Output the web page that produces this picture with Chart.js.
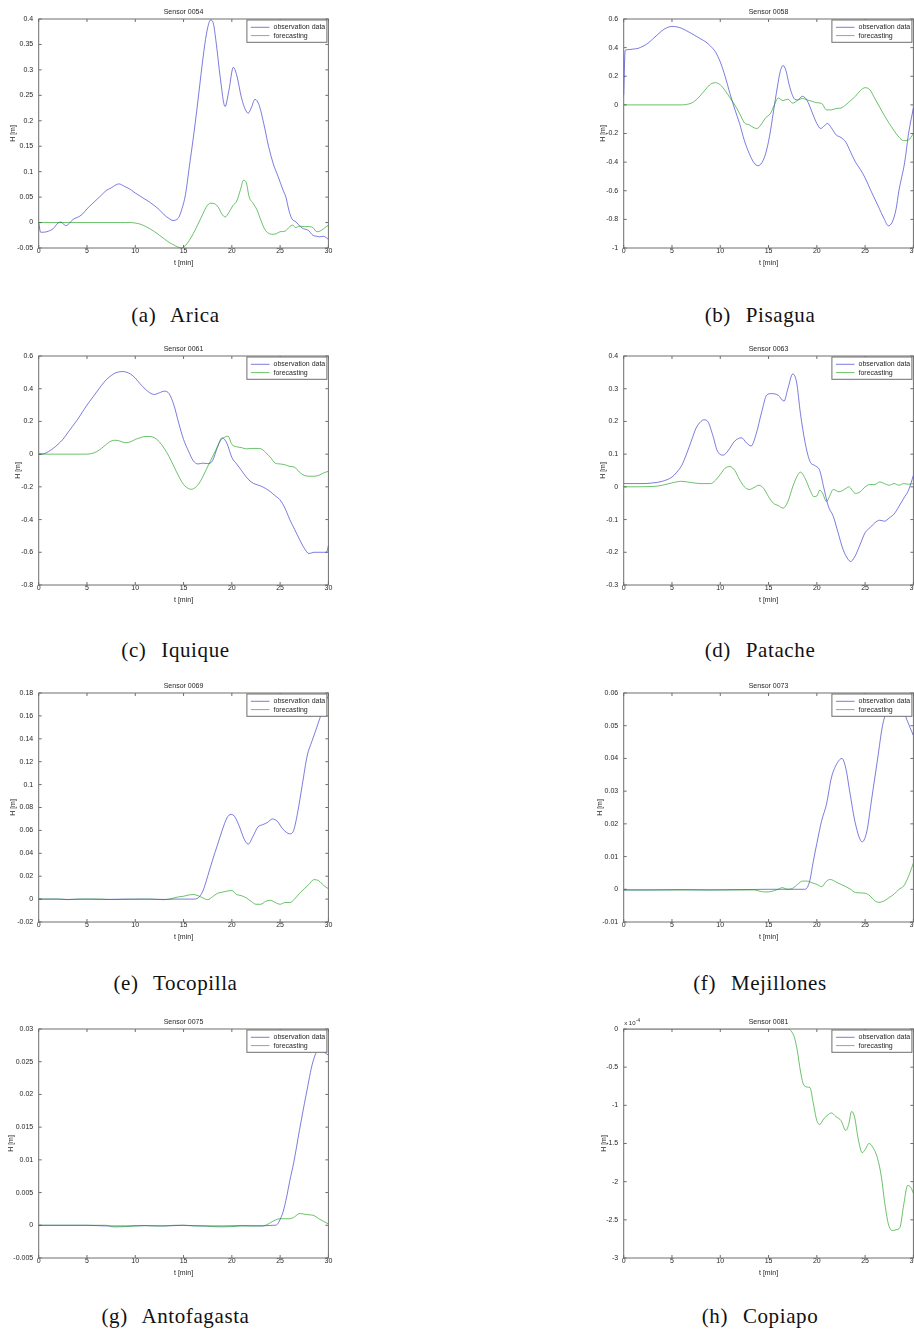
<!DOCTYPE html>
<html><head><meta charset="utf-8"><title>Tsunami sensors</title>
<script src="https://cdn.jsdelivr.net/npm/chart.js@4.4.1/dist/chart.umd.min.js"></script>
<style>
html,body{margin:0;padding:0;background:#fff;}
body{width:914px;height:1340px;overflow:hidden;position:relative;}
canvas{position:absolute;}
.cap{position:absolute;font-family:"Liberation Serif","Times New Roman",serif;font-size:21px;line-height:21px;white-space:nowrap;color:#111;word-spacing:9px;letter-spacing:0.6px;transform:translateX(-50%);}
</style></head><body>
<script>
// ---------------- DATA ----------------
const T_TICKS = [0, 5, 10, 15, 20, 25, 30];
const SENSOR_TITLES = ['Sensor 0054','Sensor 0058','Sensor 0061','Sensor 0063','Sensor 0069','Sensor 0073','Sensor 0075','Sensor 0081'];
const CAPTIONS = ['(a) Arica','(b) Pisagua','(c) Iquique','(d) Patache','(e) Tocopilla','(f) Mejillones','(g) Antofagasta','(h) Copiapo'];
const SERIES_NAMES = ['observation data', 'forecasting'];

// (a) Arica
const aricaYTicks = [-0.05,0,0.05,0.1,0.15,0.2,0.25,0.3,0.35,0.4];
const aricaObsT = [0,0.2,0.5,1,1.5,2,2.3,2.8,3.2,3.6,4,4.5,5,5.5,6,6.5,7,7.5,8,8.3,8.7,9,9.5,10,10.5,11,11.5,12,12.5,13,13.5,13.9,14.2,14.5,14.8,15.2,15.6,16,16.4,16.8,17.2,17.5,17.8,18.1,18.4,18.8,19.3,19.7,20.15,20.5,21,21.4,21.7,22,22.4,22.8,23.3,23.8,24.3,24.8,25.3,25.6,25.9,26.2,26.65,27.1,27.4,27.9,28.4,28.8,29.1,29.5,30];
const aricaObsH = [0,-0.019,-0.019,-0.017,-0.012,-0.001,0.001,-0.006,-0.001,0.007,0.01,0.016,0.027,0.036,0.045,0.054,0.063,0.068,0.074,0.076,0.073,0.07,0.065,0.058,0.052,0.046,0.04,0.033,0.025,0.015,0.008,0.004,0.005,0.01,0.025,0.055,0.11,0.165,0.225,0.29,0.35,0.383,0.398,0.39,0.35,0.285,0.228,0.26,0.305,0.29,0.245,0.222,0.215,0.225,0.242,0.232,0.195,0.15,0.115,0.09,0.064,0.05,0.025,0.008,0.001,-0.008,-0.012,-0.015,-0.025,-0.027,-0.028,-0.027,-0.033];
const aricaFcT = [0,9,9.5,10,10.5,11,11.5,12,12.5,13,13.5,14,14.4,14.8,15.2,15.6,16,16.5,17,17.4,17.8,18.2,18.6,19,19.3,19.7,20.1,20.5,20.9,21.2,21.5,21.8,22.2,22.6,23,23.4,23.8,24.2,24.6,25,25.5,26,26.3,26.6,27,27.5,28,28.4,28.8,29.1,29.5,30];
const aricaFcH = [0,0,0,-0.001,-0.003,-0.007,-0.012,-0.018,-0.025,-0.032,-0.039,-0.044,-0.048,-0.05,-0.045,-0.035,-0.022,-0.003,0.017,0.032,0.038,0.037,0.03,0.016,0.011,0.02,0.033,0.042,0.065,0.083,0.078,0.05,0.038,0.025,0.005,-0.013,-0.021,-0.023,-0.022,-0.018,-0.017,-0.008,-0.005,-0.01,-0.007,-0.008,-0.008,-0.01,-0.018,-0.017,-0.012,-0.005];

// (b) Pisagua
const pisaguaYTicks = [-1,-0.8,-0.6,-0.4,-0.2,0,0.2,0.4,0.6];
const pisaguaObsT = [0,0.08,0.15,0.3,1,1.5,2,2.5,3,3.5,4,4.5,5,5.5,6,6.5,7,7.5,8,8.5,9,9.5,10,10.5,11,11.5,12,12.5,13,13.5,13.9,14.3,14.7,15.1,15.5,15.9,16.2,16.5,16.8,17.1,17.4,17.7,18,18.5,19,19.5,20,20.4,20.8,21.1,21.5,22,22.5,23,23.5,24,24.5,25,25.6,26.3,27,27.4,27.8,28.2,28.5,29.1,29.5,30];
const pisaguaObsH = [0.07,0.28,0.38,0.385,0.39,0.395,0.41,0.43,0.46,0.49,0.52,0.54,0.548,0.545,0.535,0.518,0.5,0.48,0.46,0.44,0.41,0.37,0.3,0.2,0.08,-0.03,-0.13,-0.25,-0.34,-0.405,-0.425,-0.405,-0.34,-0.22,-0.05,0.12,0.23,0.275,0.24,0.15,0.08,0.04,0.035,0.06,0.03,-0.05,-0.13,-0.165,-0.145,-0.13,-0.16,-0.21,-0.228,-0.26,-0.33,-0.4,-0.45,-0.51,-0.6,-0.7,-0.8,-0.845,-0.82,-0.73,-0.6,-0.4,-0.2,-0.02];
const pisaguaFcT = [0,6,6.5,7,7.5,8,8.5,9,9.5,10,10.5,11,11.5,12,12.5,13,13.5,13.8,14.2,14.7,15.2,15.6,16,16.5,17,17.5,18,18.5,19,19.5,20,20.5,21,21.5,22,22.5,23,23.5,24,24.5,25,25.5,26,26.5,27,27.5,28,28.5,29,29.5,30];
const pisaguaFcH = [0,0,0.003,0.012,0.035,0.07,0.11,0.145,0.155,0.14,0.1,0.05,0.0,-0.06,-0.125,-0.14,-0.16,-0.165,-0.14,-0.09,-0.06,0.0,0.048,0.03,0.04,0.012,0.03,0.045,0.035,0.025,0.015,0.01,-0.035,-0.035,-0.025,-0.022,0.0,0.03,0.06,0.1,0.12,0.105,0.045,-0.015,-0.075,-0.13,-0.18,-0.225,-0.25,-0.245,-0.2];

// (c) Iquique
const iquiqueYTicks = [-0.8,-0.6,-0.4,-0.2,0,0.2,0.4,0.6];
const iquiqueObsT = [0,0.5,1,1.5,2,2.5,3,3.5,4,4.5,5,5.5,6,6.5,7,7.5,8,8.7,9.5,10,10.5,11,11.5,12,12.5,13,13.5,14,14.5,15,15.5,16,16.5,17,17.5,18,18.5,19,19.5,20,20.5,21,21.5,22,22.5,23,23.5,24,24.5,25,25.5,26,26.5,27,27.5,28,28.5,29,29.5,29.8,30];
const iquiqueObsH = [0,0.002,0.015,0.035,0.06,0.09,0.13,0.17,0.21,0.255,0.3,0.34,0.38,0.42,0.455,0.48,0.498,0.505,0.49,0.465,0.43,0.4,0.375,0.365,0.375,0.385,0.37,0.3,0.19,0.09,0.02,-0.04,-0.06,-0.055,-0.058,-0.04,0.04,0.1,0.065,-0.02,-0.06,-0.1,-0.14,-0.17,-0.185,-0.195,-0.21,-0.23,-0.255,-0.28,-0.33,-0.4,-0.46,-0.52,-0.575,-0.608,-0.6,-0.6,-0.6,-0.6,-0.56];
const iquiqueFcT = [0,5,5.5,6,6.5,7,7.5,8,8.5,9,9.5,10,10.5,11,11.5,12,12.5,13,13.5,14,14.5,15,15.5,15.8,16.3,16.8,17.3,17.8,18.3,18.8,19.3,19.6,20,20.5,21,21.5,22,22.5,23,23.5,24,24.5,25,25.5,26,26.5,27,27.5,28,28.5,29,29.5,30];
const iquiqueFcH = [0,0,0.004,0.015,0.035,0.06,0.08,0.085,0.078,0.07,0.075,0.09,0.1,0.108,0.108,0.1,0.075,0.035,-0.015,-0.075,-0.135,-0.185,-0.21,-0.215,-0.2,-0.16,-0.1,-0.04,0.02,0.08,0.105,0.11,0.06,0.045,0.04,0.032,0.035,0.035,0.033,0.01,-0.02,-0.055,-0.06,-0.065,-0.075,-0.08,-0.11,-0.13,-0.135,-0.135,-0.13,-0.115,-0.105];

// (d) Patache
const patacheYTicks = [-0.3,-0.2,-0.1,0,0.1,0.2,0.3,0.4];
const patacheObsT = [0,1,2,3,4,5,5.5,6,6.5,7,7.5,8,8.3,8.7,9.2,9.7,10.3,10.8,11.5,12.2,12.7,13.2,13.7,14.3,14.8,15.3,16,16.6,17,17.5,17.9,18.3,18.8,19.3,19.8,20.3,20.7,21.2,21.7,22.2,22.7,23.2,23.5,23.9,24.5,25,25.5,26,26.5,27,27.5,28,28.5,29,29.5,30];
const patacheObsH = [0.01,0.01,0.01,0.012,0.017,0.03,0.045,0.065,0.1,0.14,0.18,0.2,0.205,0.2,0.16,0.11,0.097,0.11,0.14,0.15,0.135,0.125,0.16,0.23,0.28,0.285,0.28,0.262,0.3,0.345,0.32,0.225,0.133,0.077,0.065,0.05,0.0,-0.06,-0.09,-0.14,-0.19,-0.22,-0.228,-0.215,-0.175,-0.14,-0.125,-0.11,-0.102,-0.105,-0.095,-0.083,-0.06,-0.035,-0.01,0.035];
const patacheFcT = [0,3,4,5,6,7,8,9,9.5,10,10.5,11,11.5,12,12.5,13,13.5,14,14.5,15,15.5,16,16.5,17,17.5,18,18.3,18.8,19.3,19.7,20,20.3,20.6,21,21.3,21.7,22.3,23,23.3,24,24.5,25,25.5,26,26.5,27,27.5,28,28.5,29,29.5,30];
const patacheFcH = [0,0.001,0.005,0.012,0.017,0.013,0.01,0.01,0.02,0.038,0.057,0.062,0.05,0.022,0.0,-0.008,-0.002,0.005,-0.005,-0.03,-0.05,-0.057,-0.065,-0.045,0.0,0.035,0.045,0.025,-0.01,-0.03,-0.028,-0.01,-0.02,-0.045,-0.03,-0.008,-0.015,-0.005,0.0,-0.02,-0.015,0.0,0.007,0.007,0.015,0.01,0.005,0.01,0.005,0.01,0.008,0.01];

// (e) Tocopilla
const tocopillaYTicks = [-0.02,0,0.02,0.04,0.06,0.08,0.1,0.12,0.14,0.16,0.18];
const tocopillaObsT = [0,2,3,5,7,9,11,13,14,16,16.5,17,17.5,18,18.5,19,19.5,19.9,20.3,20.8,21.3,21.7,22.2,22.7,23.2,23.7,24.2,24.7,25.3,26,26.4,26.8,27.3,27.8,28.3,28.8,29.4,30];
const tocopillaObsH = [0,0,-0.0003,0,-0.0003,0,0,-0.0003,0,0,0.001,0.007,0.02,0.034,0.047,0.06,0.071,0.074,0.072,0.063,0.052,0.048,0.055,0.063,0.065,0.067,0.07,0.068,0.061,0.057,0.06,0.075,0.1,0.125,0.138,0.15,0.165,0.178];
const tocopillaFcT = [0,2,3,4,6.5,7.5,11.5,13,13.5,14,14.5,15,15.5,16,16.5,17,17.5,18,18.5,19,19.5,20,20.5,21,21.5,22,22.5,23,23.5,24,24.5,25,25.5,26,26.5,27,27.5,28,28.5,29,29.5,30];
const tocopillaFcH = [0,0,-0.0005,0,0,-0.0004,0,-0.0005,0,0.001,0.002,0.0025,0.0035,0.004,0.003,0.001,-0.0005,0.002,0.005,0.006,0.007,0.0075,0.004,0.003,0.001,-0.002,-0.0045,-0.0045,-0.002,-0.001,-0.003,-0.0045,-0.003,-0.003,0.0,0.005,0.009,0.013,0.017,0.016,0.012,0.009];

// (f) Mejillones
const mejillonesYTicks = [-0.01,0,0.01,0.02,0.03,0.04,0.05,0.06];
const mejillonesObsT = [0,3,6,9,12,15,18.7,19,19.3,19.6,20,20.5,21,21.5,22,22.6,23,23.4,24,24.7,25.2,25.6,26.3,26.8,27.3,27.8,28.3,28.8,29.3,30];
const mejillonesObsH = [-0.0002,-0.0002,-0.0001,-0.0002,-0.0001,0,0,0.0005,0.003,0.008,0.014,0.021,0.026,0.034,0.038,0.04,0.037,0.03,0.02,0.0145,0.018,0.026,0.04,0.05,0.055,0.0585,0.058,0.056,0.052,0.047];
const mejillonesFcT = [0,5,8,10,13,13.5,14,14.5,15,15.5,16,16.4,17,17.5,18,18.5,19,19.5,20,20.5,21,21.4,22,22.5,23,23.5,24,25,25.5,26,26.4,27,27.5,28,28.5,29,29.5,30];
const mejillonesFcH = [-0.0002,-0.0002,-0.0002,-0.0002,-0.0002,-0.0002,-0.0005,-0.0008,-0.0008,-0.0005,0.0,0.0005,0.0,0.0003,0.0015,0.0025,0.0025,0.002,0.0015,0.0008,0.0025,0.003,0.0022,0.0015,0.0008,0.0,-0.001,-0.0012,-0.002,-0.0035,-0.004,-0.0035,-0.0025,-0.0015,0.0,0.001,0.004,0.008];

// (g) Antofagasta
const antofagastaYTicks = [-0.005,0,0.005,0.01,0.015,0.02,0.025,0.03];
const antofagastaObsT = [0,5,7,9,11,13,15,17,19,21,23,24.3,24.5,24.8,25,25.3,25.7,26,26.4,27,27.7,28.4,29,29.5,30];
const antofagastaObsH = [0,0,-0.0001,-0.0001,-0.00005,-0.0001,0,-0.0001,-0.0001,-0.00005,-0.0001,0,0,0.0003,0.0009,0.002,0.0045,0.0068,0.0095,0.0145,0.02,0.025,0.0268,0.0265,0.026];
const antofagastaFcT = [0,7,7.5,8,9,10,11,12,13,14,15,16,17,18,19,20,21,22,23,23.5,24,24.5,25,25.5,26,26.5,27,27.5,28,28.5,29,29.5,30];
const antofagastaFcH = [0,0,-0.0002,-0.00025,-0.0002,-0.0001,-0.00005,-0.0001,-0.0001,0,0,-0.0001,-0.0001,-0.0002,-0.00025,-0.0002,-0.0001,-0.0001,-0.0001,0,0.0004,0.0008,0.001,0.001,0.001,0.0013,0.0018,0.0017,0.0016,0.0015,0.001,0.0006,0.0002];

// (h) Copiapo  (values in units of 1e-4 m; no observation trace is visible)
const copiapoYTicks = [-3,-2.5,-2,-1.5,-1,-0.5,0];
const copiapoObsT = [];
const copiapoObsH = [];
const copiapoFcT = [0,17,17.3,17.7,18,18.3,18.6,19,19.3,19.6,20,20.3,20.7,21.2,21.5,22,22.5,23,23.3,23.6,23.9,24.3,24.7,25,25.4,25.8,26.3,26.7,27,27.4,27.8,28.2,28.6,29,29.4,29.7,30];
const copiapoFcH = [0,0,-0.02,-0.12,-0.3,-0.55,-0.72,-0.76,-0.77,-0.95,-1.2,-1.25,-1.18,-1.12,-1.1,-1.15,-1.2,-1.33,-1.25,-1.08,-1.15,-1.45,-1.62,-1.58,-1.5,-1.55,-1.7,-1.95,-2.25,-2.55,-2.64,-2.63,-2.6,-2.3,-2.05,-2.07,-2.15];
const copiapoExponent = '-4';

// ---------------- LAYOUT / STYLE ----------------
const FONT = '"Liberation Sans", Arial, Helvetica, sans-serif';
const INK = '#262626';
const BOX = '#6e6e6e';
const BLUE = 'rgba(30,30,200,0.58)';
const GREEN = 'rgba(0,150,0,0.58)';
const AX_LEFT = [38.7, 623.3];
const AX_TOP0 = 19.3, ROW = 336.6;
const PLOT_W = 289.7, PLOT_H = 229;
const Y_W = 38.7, TITLE_H = 14, X_H = 22;
const CW = 341, CH = TITLE_H + PLOT_H + X_H;
const CAP_X = [175.5, 760];
const CAP_BASE = [323, 658, 990.5, 1324];

const PANELS = [
  {yMin:-0.05, yMax:0.4, yTicks:aricaYTicks, obsT:aricaObsT, obsH:aricaObsH, fcT:aricaFcT, fcH:aricaFcH, yLabelGap:26},
  {yMin:-1, yMax:0.6, yTicks:pisaguaYTicks, obsT:pisaguaObsT, obsH:pisaguaObsH, fcT:pisaguaFcT, fcH:pisaguaFcH, yLabelGap:20.3},
  {yMin:-0.8, yMax:0.6, yTicks:iquiqueYTicks, obsT:iquiqueObsT, obsH:iquiqueObsH, fcT:iquiqueFcT, fcH:iquiqueFcH, yLabelGap:20.4},
  {yMin:-0.3, yMax:0.4, yTicks:patacheYTicks, obsT:patacheObsT, obsH:patacheObsH, fcT:patacheFcT, fcH:patacheFcH, yLabelGap:20.3},
  {yMin:-0.02, yMax:0.18, yTicks:tocopillaYTicks, obsT:tocopillaObsT, obsH:tocopillaObsH, fcT:tocopillaFcT, fcH:tocopillaFcH, yLabelGap:25.4},
  {yMin:-0.01, yMax:0.06, yTicks:mejillonesYTicks, obsT:mejillonesObsT, obsH:mejillonesObsH, fcT:mejillonesFcT, fcH:mejillonesFcH, yLabelGap:23.3},
  {yMin:-0.005, yMax:0.03, yTicks:antofagastaYTicks, obsT:antofagastaObsT, obsH:antofagastaObsH, fcT:antofagastaFcT, fcH:antofagastaFcH, yLabelGap:28},
  {yMin:-3, yMax:0, yTicks:copiapoYTicks, obsT:copiapoObsT, obsH:copiapoObsH, fcT:copiapoFcT, fcH:copiapoFcH, yLabelGap:20, exp:copiapoExponent}
];

const fmt = v => String(parseFloat(Number(v).toFixed(6)));
function pts(t, h) { const n = Math.min(t.length, h.length), out = []; for (let i = 0; i < n; i++) out.push({x: t[i], y: h[i]}); return out; }

// MATLAB-like box with inward ticks on all four sides
const matlabAxes = {
  id: 'matlabAxes',
  beforeDatasetsDraw(chart) {
    const {ctx, chartArea: a, scales: {x, y}} = chart;
    const L = 3;
    ctx.save();
    ctx.strokeStyle = BOX; ctx.lineWidth = 1;
    ctx.strokeRect(a.left, a.top, a.right - a.left, a.bottom - a.top);
    ctx.beginPath();
    x.ticks.forEach(t => { const p = x.getPixelForValue(t.value);
      ctx.moveTo(p, a.bottom); ctx.lineTo(p, a.bottom - L);
      ctx.moveTo(p, a.top); ctx.lineTo(p, a.top + L); });
    y.ticks.forEach(t => { const p = y.getPixelForValue(t.value);
      ctx.moveTo(a.left, p); ctx.lineTo(a.left + L, p);
      ctx.moveTo(a.right, p); ctx.lineTo(a.right - L, p); });
    ctx.stroke();
    ctx.restore();
  }
};

// Boxed legend in the top-right corner, drawn over the data
const boxLegend = {
  id: 'boxLegend',
  afterDatasetsDraw(chart) {
    const {ctx, chartArea: a} = chart;
    const w = 80, h = 22.3, r = a.right - 1.5, l = r - w, t = a.top + 1;
    ctx.save();
    ctx.fillStyle = '#fff'; ctx.fillRect(l, t, w, h);
    ctx.strokeStyle = BOX; ctx.lineWidth = 1; ctx.strokeRect(l, t, w, h);
    ctx.font = '7px ' + FONT; ctx.textBaseline = 'middle'; ctx.textAlign = 'left';
    chart.data.datasets.forEach((ds, i) => {
      const yy = t + 7.3 + i * 8.3;
      ctx.strokeStyle = ds.borderColor; ctx.lineWidth = 1;
      ctx.beginPath(); ctx.moveTo(l + 4, yy); ctx.lineTo(l + 22.6, yy); ctx.stroke();
      ctx.fillStyle = INK; ctx.fillText(ds.label, l + 26.6, yy);
    });
    ctx.restore();
  }
};

// "x 10^-4" axis multiplier
const expLabel = {
  id: 'expLabel',
  afterDraw(chart, args, opts) {
    if (!opts || !opts.exp) return;
    const {ctx, chartArea: a} = chart;
    ctx.save();
    ctx.fillStyle = INK; ctx.textBaseline = 'middle'; ctx.textAlign = 'left';
    ctx.font = '6px ' + FONT;
    const base = 'x 10';
    ctx.fillText(base, a.left + 0.5, a.top - 5.5);
    const w = ctx.measureText(base).width;
    ctx.font = '4.5px ' + FONT;
    ctx.fillText(opts.exp, a.left + 1 + w, a.top - 8.5);
    ctx.restore();
  }
};

PANELS.forEach((p, k) => {
  const col = k % 2, row = Math.floor(k / 2);
  const cv = document.createElement('canvas');
  cv.width = CW; cv.height = CH;
  cv.style.width = CW + 'px'; cv.style.height = CH + 'px';
  cv.style.left = (AX_LEFT[col] - Y_W) + 'px';
  cv.style.top = (AX_TOP0 + row * ROW - TITLE_H) + 'px';
  document.body.appendChild(cv);

  const smallFont = {family: FONT, size: 7, lineHeight: 1, weight: 'normal'};
  new Chart(cv, {
    type: 'line',
    data: {
      datasets: [
        {label: SERIES_NAMES[0], data: pts(p.obsT, p.obsH), borderColor: BLUE, backgroundColor: BLUE, borderWidth: 1, pointRadius: 0, cubicInterpolationMode: 'monotone', fill: false, order: 1},
        {label: SERIES_NAMES[1], data: pts(p.fcT, p.fcH), borderColor: GREEN, backgroundColor: GREEN, borderWidth: 1, pointRadius: 0, cubicInterpolationMode: 'monotone', fill: false, order: 0}
      ]
    },
    options: {
      responsive: false, animation: false, devicePixelRatio: 1,
      layout: {autoPadding: false, padding: {left: 0, top: 0, bottom: 0, right: CW - Y_W - PLOT_W}},
      plugins: {
        legend: {display: false}, tooltip: {enabled: false},
        title: {display: true, text: SENSOR_TITLES[k], fullSize: false, color: INK, font: smallFont, padding: {top: 4, bottom: 3}},
        expLabel: {exp: p.exp || ''}
      },
      scales: {
        x: {
          type: 'linear', min: 0, max: 30, position: 'bottom',
          grid: {display: false, drawTicks: false}, border: {display: false},
          afterBuildTicks: s => { s.ticks = T_TICKS.map(v => ({value: v})); },
          afterFit: s => { s.height = X_H; s.paddingLeft = 0; s.paddingRight = 0; },
          ticks: {color: INK, font: smallFont, padding: 0, maxRotation: 0, autoSkip: false, callback: fmt},
          title: {display: true, text: 't [min]', color: INK, font: smallFont, padding: {top: 0, bottom: 3.5}}
        },
        y: {
          type: 'linear', min: p.yMin, max: p.yMax, position: 'left',
          grid: {display: false, drawTicks: false}, border: {display: false},
          afterBuildTicks: s => { s.ticks = p.yTicks.map(v => ({value: v})); },
          afterFit: s => { s.width = Y_W; s.paddingTop = 0; s.paddingBottom = 0; },
          ticks: {color: INK, font: smallFont, padding: 5.5, autoSkip: false, callback: fmt},
          title: {display: true, text: 'H [m]', color: INK, font: smallFont, padding: {top: Y_W - p.yLabelGap - 3.5, bottom: 0}}
        }
      }
    },
    plugins: [matlabAxes, boxLegend, expLabel]
  });

  const cap = document.createElement('div');
  cap.className = 'cap';
  cap.textContent = CAPTIONS[k];
  cap.style.left = CAP_X[col] + 'px';
  cap.style.top = (CAP_BASE[row] - 17.6) + 'px';
  document.body.appendChild(cap);
});
</script>
</body></html>
